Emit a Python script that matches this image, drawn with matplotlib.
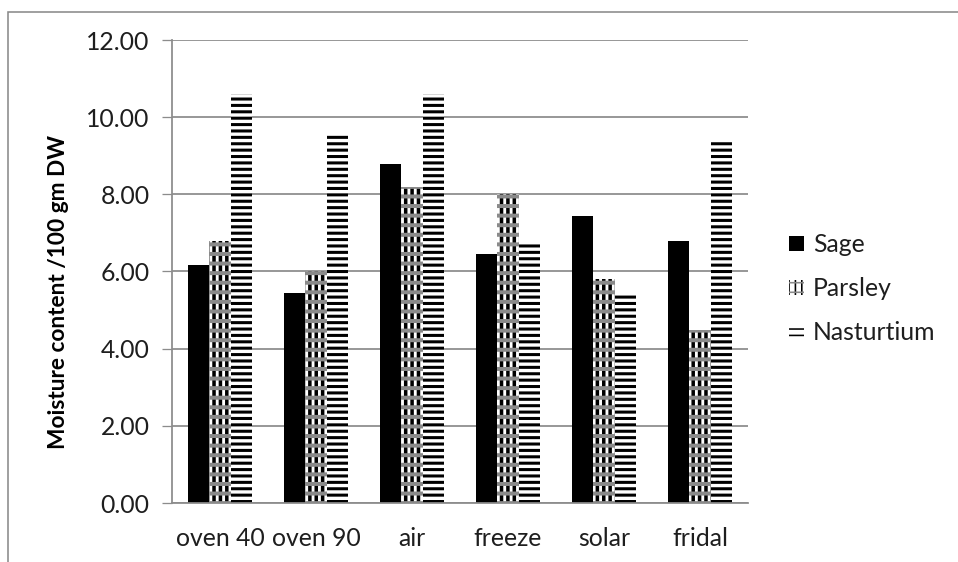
import matplotlib
matplotlib.use("Agg")
import matplotlib.pyplot as plt
from matplotlib.patches import Rectangle, Patch
import numpy as np

plt.rcParams['font.family'] = ['Lato', 'DejaVu Sans']

categories = ["oven 40", "oven 90", "air", "freeze", "solar", "fridal"]
sage = [6.17, 5.45, 8.79, 6.46, 7.45, 6.79]
parsley = [6.78, 6.01, 8.20, 8.00, 5.81, 4.48]
nasturtium = [10.60, 9.57, 10.61, 6.77, 5.43, 9.44]
series_names = ["Sage", "Parsley", "Nasturtium"]
y_ticks = [0, 2, 4, 6, 8, 10, 12]
y_label = "Moisture content /100 gm DW"

DPI = 115
fig = plt.figure(figsize=(8.3305, 4.8871), dpi=DPI)
ax = fig.add_axes([172 / 958, 1 - 503 / 562, 576 / 958, 463 / 562])

x = np.arange(len(categories))
w = 1 / 4.5
grid_col = "#8c8c8c"
text_col = "#1e1e1e"
FS = 15.5

# Sage: solid black
ax.bar(x - w, sage, w, color="black", linewidth=0, zorder=3)

# Parsley: vertical black stripes with grey horizontal bands
with plt.rc_context({'hatch.linewidth': 2.2}):
    ax.bar(x, parsley, w, facecolor="white", edgecolor="black",
           hatch="|||", linewidth=0, zorder=3)
with plt.rc_context({'hatch.linewidth': 2.5}):
    ax.bar(x, parsley, w, facecolor="none", edgecolor="#8a8a8a",
           hatch="--", linewidth=0, zorder=4)

# Nasturtium: horizontal black stripes
with plt.rc_context({'hatch.linewidth': 1.9}):
    ax.bar(x + w, nasturtium, w, facecolor="white", edgecolor="black",
           hatch="---", linewidth=0, zorder=3)

ax.set_xlim(-0.5, len(categories) - 0.5)
ax.set_ylim(0, 12)
ax.set_yticks(y_ticks)
ax.set_yticklabels([f"{v:.2f}" for v in y_ticks])
ax.set_xticks(x)
ax.set_xticklabels(categories)
ax.tick_params(axis="y", length=6, color=grid_col, labelsize=FS,
               labelcolor=text_col, pad=8)
ax.tick_params(axis="x", length=0, labelsize=FS, labelcolor=text_col, pad=15)
ax.yaxis.grid(True, color=grid_col, linewidth=1.1, zorder=0)
ax.set_axisbelow(True)
for side in ("top", "right"):
    ax.spines[side].set_visible(False)
for side in ("left", "bottom"):
    ax.spines[side].set_color(grid_col)
    ax.spines[side].set_linewidth(1.1)
ax.spines["bottom"].set_zorder(5)

ax.set_ylabel(y_label, fontsize=14.2, fontweight="bold", color="black")
ax.yaxis.set_label_coords(-0.179, 0.455)

# Legend
with plt.rc_context({'hatch.linewidth': 1.6}):
    h_sage = Patch(facecolor="black", linewidth=0)
    h_pars = Patch(facecolor="white", edgecolor="black", hatch="|||", linewidth=0)
    h_pars_band = Patch(facecolor="none", edgecolor="#8a8a8a", hatch="--", linewidth=0)
    h_nast = Patch(facecolor="white", edgecolor="black", hatch="---", linewidth=0)
leg = fig.legend([h_sage, (h_pars, h_pars_band), h_nast], series_names,
                 loc="upper left",
                 bbox_to_anchor=(767 / 958, 1 - 211 / 562),
                 frameon=False, fontsize=FS, handlelength=0.6,
                 handleheight=0.6, handletextpad=0.35, labelspacing=0.85)
for t in leg.get_texts():
    t.set_color(text_col)

# Chart border
fig.add_artist(Rectangle((8 / 958, -0.2), 2, 1.2 - 12 / 562,
                         transform=fig.transFigure, fill=False,
                         edgecolor="#8a8a8a", linewidth=1.0))

fig.savefig("out.png", dpi=DPI)
